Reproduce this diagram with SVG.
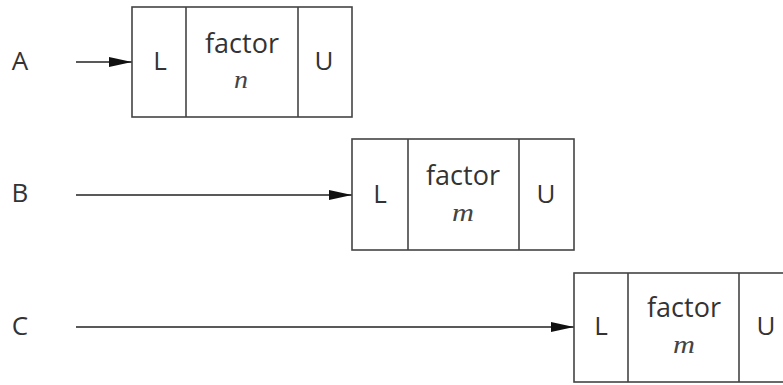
<svg xmlns="http://www.w3.org/2000/svg" width="783" height="385" viewBox="0 0 783 385">
<defs>
<marker id="ah" markerUnits="userSpaceOnUse" markerWidth="24" markerHeight="12" refX="23" refY="6" orient="auto">
<path d="M0,1 L23,6 L0,11 Z" fill="#111"/>
</marker>
<style>
.box{fill:#fff;stroke:#444;stroke-width:1.6}
.div{stroke:#444;stroke-width:1.6}
.lbl{font-family:"Open Sans","Liberation Sans",sans-serif;font-size:26px;fill:#333;text-anchor:middle}
.fac{font-family:"Open Sans","Liberation Sans",sans-serif;font-size:27px;fill:#333;text-anchor:middle}
.var{font-family:"Liberation Serif",serif;font-style:italic;font-size:25px;fill:#444;text-anchor:middle}
.conn{stroke:#222;stroke-width:1.6;fill:none;marker-end:url(#ah)}
</style>
</defs>
<rect width="783" height="385" fill="#fff"/>
<g id="labels">
<text class="lbl" x="20" y="70">A</text>
<text class="lbl" x="20" y="202">B</text>
<text class="lbl" x="20" y="335">C</text>
</g>
<g id="connectors">
<line class="conn" x1="76" y1="62" x2="132" y2="62"/>
<line class="conn" x1="76" y1="195" x2="352" y2="195"/>
<line class="conn" x1="76" y1="327" x2="574" y2="327"/>
</g>
<g id="nodeA">
<rect class="box" x="132" y="7" width="220" height="110"/>
<line class="div" x1="186" y1="7" x2="186" y2="117"/>
<line class="div" x1="298" y1="7" x2="298" y2="117"/>
<text class="lbl" x="160" y="70">L</text>
<text class="fac" x="242" y="53">factor</text>
<text class="var" x="241" y="88" textLength="14" lengthAdjust="spacingAndGlyphs">n</text>
<text class="lbl" x="324" y="70">U</text>
</g>
<g id="nodeB">
<rect class="box" x="352" y="139" width="222" height="111"/>
<line class="div" x1="408" y1="139" x2="408" y2="250"/>
<line class="div" x1="519" y1="139" x2="519" y2="250"/>
<text class="lbl" x="380" y="203">L</text>
<text class="fac" x="463" y="185">factor</text>
<text class="var" x="463" y="221" textLength="22" lengthAdjust="spacingAndGlyphs">m</text>
<text class="lbl" x="546" y="203">U</text>
</g>
<g id="nodeC">
<rect class="box" x="574" y="273" width="222" height="109"/>
<line class="div" x1="628" y1="273" x2="628" y2="382"/>
<line class="div" x1="739" y1="273" x2="739" y2="382"/>
<text class="lbl" x="601" y="335">L</text>
<text class="fac" x="684" y="317">factor</text>
<text class="var" x="684" y="353" textLength="22" lengthAdjust="spacingAndGlyphs">m</text>
<text class="lbl" x="766" y="335">U</text>
</g>
</svg>
